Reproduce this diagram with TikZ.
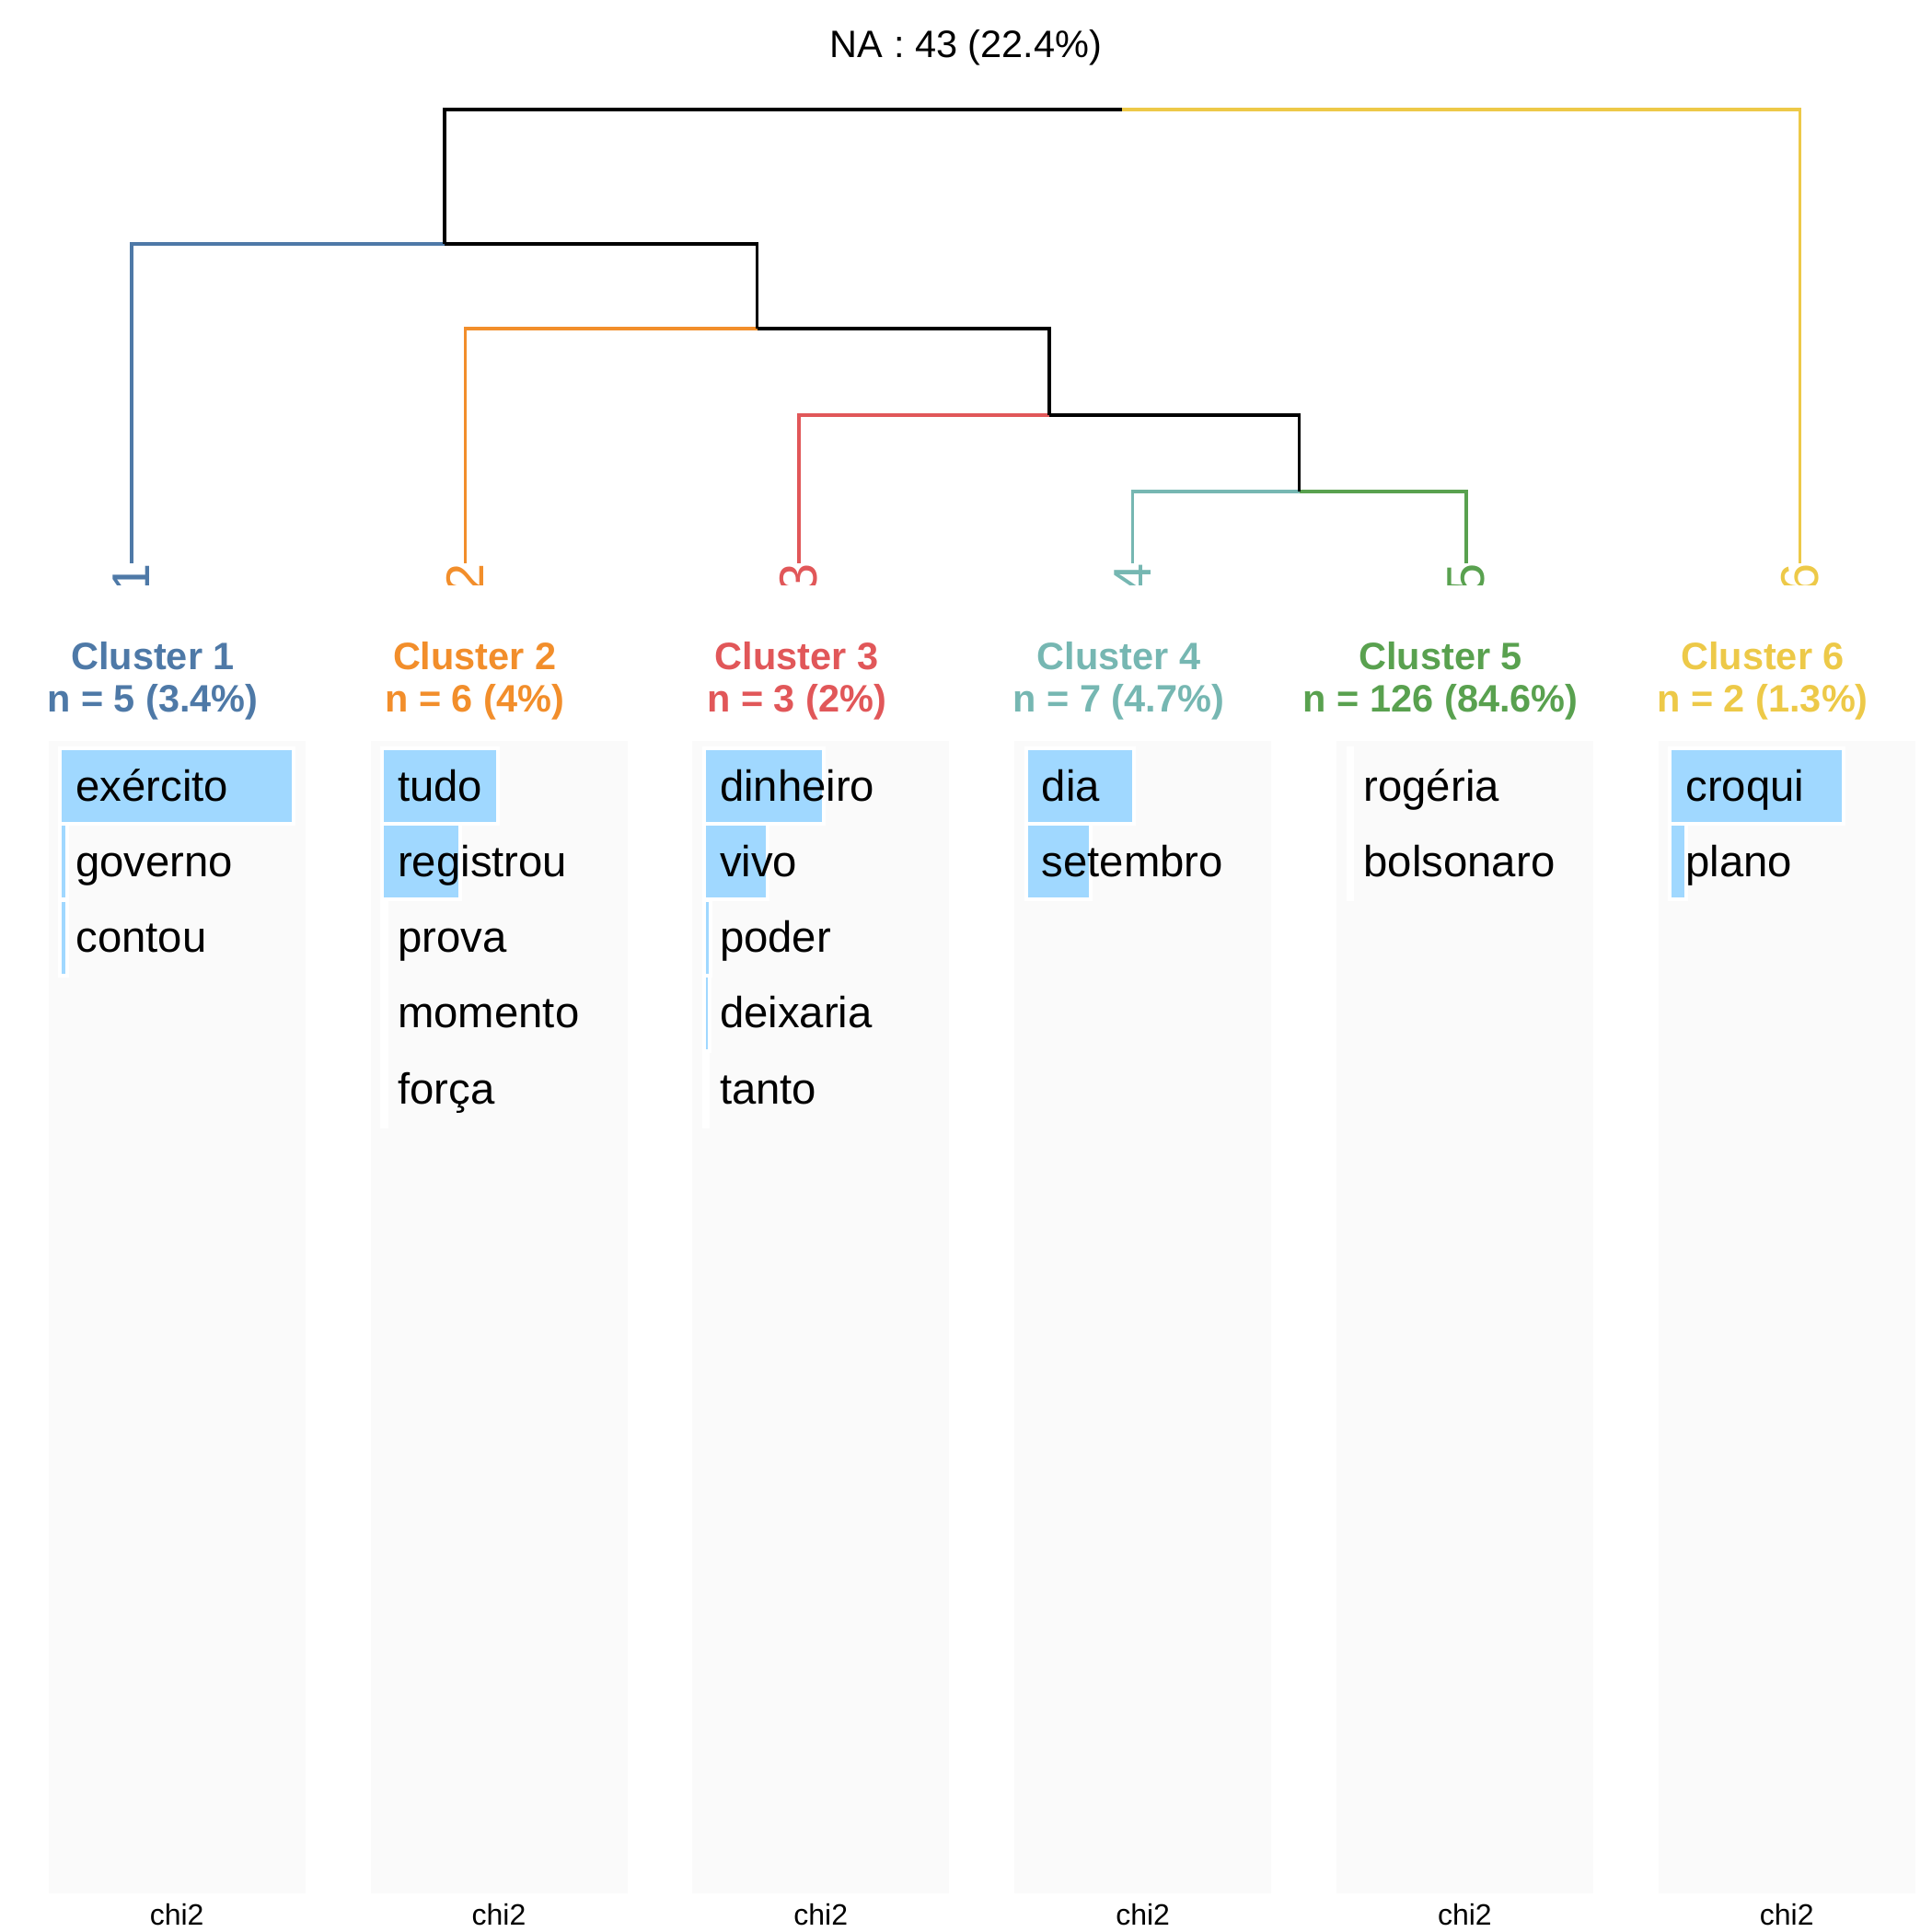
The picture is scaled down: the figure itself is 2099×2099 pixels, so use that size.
\documentclass[tikz,border=0pt]{standalone}
\usepackage{fontspec}
\setmainfont{Liberation Sans}
\usepackage{xcolor}
\usepackage{tikz}

\definecolor{cA}{HTML}{4E79A7}
\definecolor{cB}{HTML}{F28E2B}
\definecolor{cC}{HTML}{E15759}
\definecolor{cD}{HTML}{76B7B2}
\definecolor{cE}{HTML}{59A14F}
\definecolor{cF}{HTML}{EDC948}
\definecolor{barblue}{RGB}{160,216,255}
\definecolor{panelgray}{RGB}{250,250,250}

\begin{document}
\begin{tikzpicture}[
  x=0.01cm, y=-0.01cm,
  branch/.style={line width=0.95pt},
  leaf/.style={rotate=90, anchor=east, inner sep=0pt, font=\fontsize{16.4}{16.4}\selectfont},
  panel/.style={fill=panelgray, draw=none},
  wbar/.style={fill=barblue, draw=white, line width=1.14pt},
  word/.style={anchor=base west, inner sep=0pt, font=\fontsize{13.45}{15}\selectfont},
  head/.style={anchor=base, inner sep=0pt, font=\bfseries\fontsize{11.8}{13}\selectfont},
  chilabel/.style={anchor=base, inner sep=0pt, font=\fontsize{9.1}{10}\selectfont}
]
\useasboundingbox (0,0) rectangle (2099,2099);

\node[anchor=base, inner sep=0pt, font=\fontsize{11.8}{13}\selectfont] (title) at (1049.5,62.7) {NA : 43 (22.4\%)};

% dendrogram
\coordinate (leaf1) at (143,612);
\coordinate (leaf2) at (505.5,612);
\coordinate (leaf3) at (868,612);
\coordinate (leaf4) at (1230.5,612);
\coordinate (leaf5) at (1593,612);
\coordinate (leaf6) at (1955.5,612);
\coordinate (n45) at (1411.75,534);
\coordinate (n345) at (1139.9,451);
\coordinate (n2345) at (822.7,357);
\coordinate (n12345) at (482.85,265);
\coordinate (root) at (1219.2,119);

\draw[branch, cD] (n45) -| (leaf4);
\draw[branch, cE] (n45) -| (leaf5);
\draw[branch] (n345) -| (n45);
\draw[branch, cC] (n345) -| (leaf3);
\draw[branch] (n2345) -| (n345);
\draw[branch, cB] (n2345) -| (leaf2);
\draw[branch] (n12345) -| (n2345);
\draw[branch, cA] (n12345) -| (leaf1);
\draw[branch] (root) -| (n12345);
\draw[branch, cF] (root) -| (leaf6);

\begin{scope}
  \clip (0,0) rectangle (2099,635);
  \foreach \k/\col in {1/cA,2/cB,3/cC,4/cD,5/cE,6/cF}
    \node[leaf, text=\col] (lab\k) at (leaf\k) {\k};
\end{scope}

% word panels
\foreach \k/\col/\sz/\words in {
  1/cA/{n = 5 (3.4\%)}/{exército/254,governo/7.4,contou/7.4},
  2/cB/{n = 6 (4\%)}/{tudo/126,registrou/85.3,prova/4.4,momento/4.4,força/4.4},
  3/cC/{n = 3 (2\%)}/{dinheiro/129.6,vivo/69.4,poder/7,deixaria/6,tanto/4.4},
  4/cD/{n = 7 (4.7\%)}/{dia/117,setembro/70},
  5/cE/{n = 126 (84.6\%)}/{rogéria/4.4,bolsonaro/4.4},
  6/cF/{n = 2 (1.3\%)}/{croqui/188.6,plano/17.9}}{
  \pgfmathsetmacro\px{52.7+349.8*(\k-1)}
  \fill[panel] (\px,805) rectangle ++(279,1252);
  \node[head, text=\col] (head\k) at (\px+113.3,727.7) {Cluster \k};
  \node[head, text=\col] (size\k) at (\px+113.3,773) {\sz};
  \foreach \w/\v [count=\i] in \words {
    \pgfmathsetmacro\ry{813+82.3*(\i-1)}
    \draw[wbar] (\px+12.6,\ry) rectangle ++(\v,82);
    \node[word] (w\k-\i) at (\px+29,\ry+57) {\w};
  }
  \node[chilabel] (chi\k) at (\px+139.5,2091.7) {chi2};
}
\end{tikzpicture}
\end{document}
